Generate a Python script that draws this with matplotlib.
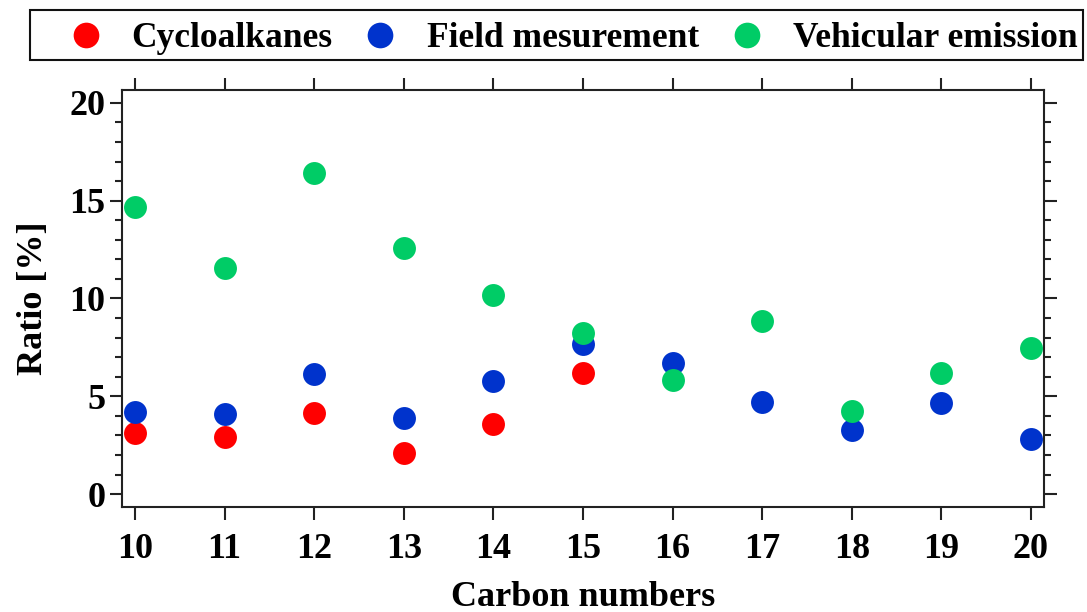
import matplotlib
matplotlib.use("Agg")
import matplotlib.pyplot as plt
from matplotlib.ticker import MultipleLocator
from matplotlib.patches import Rectangle

carbon = [10, 11, 12, 13, 14, 15, 16, 17, 18, 19, 20]
cyclo_x = [10, 11, 12, 13, 14, 15]
cyclo_y = [3.14, 2.90, 4.16, 2.08, 3.58, 6.17]
field_y = [4.21, 4.08, 6.14, 3.90, 5.80, 7.66, 6.69, 4.72, 3.27, 4.67, 2.80]
vehic_y = [14.68, 11.54, 16.40, 12.60, 10.16, 8.22, 5.83, 8.85, 4.25, 6.20, 7.45]

labels = ["Cycloalkanes", "Field mesurement", "Vehicular emission"]
colors = ["#ff0000", "#0033cc", "#00cc66"]

plt.rcParams['font.family'] = ['Liberation Serif', 'DejaVu Serif']
plt.rcParams['font.weight'] = 'bold'

FS = 26

fig = plt.figure(figsize=(10.87, 6.12), dpi=100)
ax = fig.add_axes([0.1122, 0.1716, 0.8482, 0.6814])

ms = 16.5
h1, = ax.plot(cyclo_x, cyclo_y, 'o', color=colors[0], ms=ms, mec='none', zorder=3)
h2, = ax.plot(carbon, field_y, 'o', color=colors[1], ms=ms, mec='none', zorder=4)
h3, = ax.plot(carbon, vehic_y, 'o', color=colors[2], ms=ms, mec='none', zorder=5)

ax.set_xlim(9.855, 20.145)
ax.set_ylim(-0.66, 20.66)
ax.set_xticks(carbon)
ax.set_yticks([0, 5, 10, 15, 20])
ax.yaxis.set_minor_locator(MultipleLocator(1))

for s in ax.spines.values():
    s.set_linewidth(1.5)
    s.set_color('#222222')

ax.tick_params(axis='both', which='major', direction='out', length=9, width=1.5,
               color='#222222', labelsize=FS)
ax.tick_params(axis='y', which='major', pad=3, left=True, right=True)
ax.tick_params(axis='y', which='minor', direction='out', length=5, width=1.5,
               color='#222222', left=True, right=True)
ax.tick_params(axis='x', which='major', pad=10, top=True, bottom=True)

ax.set_xlabel("Carbon numbers", fontsize=FS, fontweight='bold', labelpad=10.5)
ax.set_ylabel("Ratio [%]", fontsize=FS, fontweight='bold', labelpad=14)

leg = fig.legend([h1, h2, h3], labels, loc='center',
                 bbox_to_anchor=(0.5267, 0.9363),
                 ncol=3, frameon=False, borderpad=0.0,
                 borderaxespad=0, handletextpad=0.8, columnspacing=0.85,
                 handlelength=1.0, markerscale=1.12,
                 prop={'family': 'Liberation Serif', 'weight': 'bold', 'size': 25.5})

# legend frame box
fig.patches.append(Rectangle((30 / 1087, 1 - 60 / 612), 1053 / 1087, 50 / 612,
                             transform=fig.transFigure, fill=False,
                             edgecolor='#111111', linewidth=1.5, zorder=10))

fig.savefig("out.png", dpi=100)
